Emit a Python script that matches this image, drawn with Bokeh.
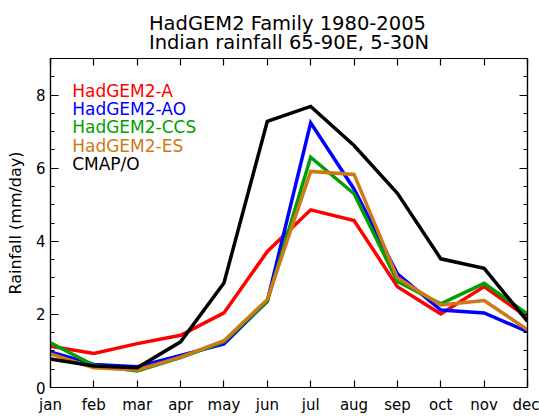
import numpy as np
from bokeh.plotting import figure
from bokeh.models import Range1d, LinearAxis, FixedTicker, Label
from bokeh.embed import file_html
from bokeh.resources import INLINE

# ---- data -------------------------------------------------------------
months = ["jan", "feb", "mar", "apr", "may", "jun", "jul", "aug", "sep", "oct", "nov", "dec"]
hadgem2_a   = [1.13, 0.93, 1.20, 1.43, 2.04, 3.72, 4.86, 4.57, 2.76, 2.01, 2.76, 1.92]
hadgem2_ao  = [0.97, 0.63, 0.57, 0.88, 1.19, 2.36, 7.24, 5.43, 3.11, 2.12, 2.04, 1.53]
hadgem2_ccs = [1.22, 0.61, 0.45, 0.82, 1.25, 2.36, 6.30, 5.30, 2.90, 2.29, 2.85, 2.01]
hadgem2_es  = [0.92, 0.54, 0.48, 0.83, 1.28, 2.41, 5.91, 5.83, 3.00, 2.26, 2.38, 1.58]
cmap_o      = [0.78, 0.59, 0.54, 1.25, 2.86, 7.28, 7.69, 6.62, 5.31, 3.52, 3.26, 1.81]

series_names = ["HadGEM2-A", "HadGEM2-AO", "HadGEM2-CCS", "HadGEM2-ES", "CMAP/O"]
series_values = [hadgem2_a, hadgem2_ao, hadgem2_ccs, hadgem2_es, cmap_o]
series_colors = ["#ff0000", "#0000ff", "#00a000", "#cf7814", "#000000"]

y_major = [0, 2, 4, 6, 8]
title_lines = ["HadGEM2 Family 1980-2005", "Indian rainfall 65-90E, 5-30N"]
y_title = "Rainfall (mm/day)"

# ---- figure -----------------------------------------------------------
FONT = "DejaVu Sans"
x = list(range(len(months)))

p = figure(width=539, height=416, output_backend="svg", toolbar_location=None,
           x_range=Range1d(0, len(months) - 1), y_range=Range1d(0, 9),
           min_border_left=50, min_border_right=12, min_border_top=58,
           min_border_bottom=29)
p.grid.visible = False
p.outline_line_color = "black"
p.outline_line_width = 1.2
p.background_fill_color = "white"
p.border_fill_color = "white"

xticker = FixedTicker(ticks=x, minor_ticks=[])
yticker = FixedTicker(ticks=y_major, minor_ticks=list(np.arange(0, 9.01, 0.5)))

def style_axis(ax, tick_len, minor_len):
    ax.axis_line_color = "black"
    ax.axis_line_width = 1.2
    ax.major_tick_in = tick_len
    ax.major_tick_out = 0
    ax.minor_tick_in = minor_len
    ax.minor_tick_out = 0
    ax.major_tick_line_color = "black"
    ax.minor_tick_line_color = "black"
    ax.major_tick_line_width = 1.2
    ax.minor_tick_line_width = 1.2
    ax.major_label_text_font = FONT
    ax.major_label_text_color = "black"

bx = p.xaxis[0]
bx.ticker = xticker
bx.major_label_overrides = {i: m for i, m in zip(x, months)}
style_axis(bx, 7, 0)
bx.major_label_text_font_size = "15px"
bx.major_label_standoff = 8

ly = p.yaxis[0]
ly.ticker = yticker
style_axis(ly, 8, 4)
ly.major_label_text_font_size = "15px"
ly.major_label_standoff = 5
ly.axis_label = y_title
ly.axis_label_text_font = FONT
ly.axis_label_text_font_size = "16px"
ly.axis_label_text_font_style = "normal"
ly.axis_label_text_color = "black"
ly.axis_label_standoff = 8

# mirrored tick-only axes (right / top): labels blanked and not drawn
ry = LinearAxis(ticker=yticker)
style_axis(ry, 8, 4)
ry.major_label_overrides = {t: "" for t in y_major}
ry.major_label_text_color = None
ry.major_label_text_font_size = "1px"
ry.major_label_standoff = 0
p.add_layout(ry, "right")

tx = LinearAxis(ticker=xticker)
style_axis(tx, 7, 0)
tx.major_label_overrides = {i: "" for i in x}
tx.major_label_text_color = None
tx.major_label_text_font_size = "1px"
tx.major_label_standoff = 0
p.add_layout(tx, "above")

# ---- lines ------------------------------------------------------------
for vals, col in zip(series_values, series_colors):
    p.line(x, vals, line_color=col, line_width=3.5, line_join="miter")

# ---- legend (coloured text) ------------------------------------------
for i, (name, col) in enumerate(zip(series_names, series_colors)):
    p.add_layout(Label(x=0.5, y=8.12 - 0.5 * i, text=name, text_color=col,
                       text_font=FONT, text_font_size="17px",
                       text_baseline="middle", text_align="left"))

# ---- title (two lines) ------------------------------------------------
p.title.text = "\n".join(title_lines)
p.title.align = "center"
p.title.text_font = FONT
p.title.text_font_size = "19.5px"
p.title.text_font_style = "normal"
p.title.text_color = "black"
p.title.text_line_height = 0.86
p.title.standoff = 8

open("out.html", "w").write(file_html(p, INLINE))
